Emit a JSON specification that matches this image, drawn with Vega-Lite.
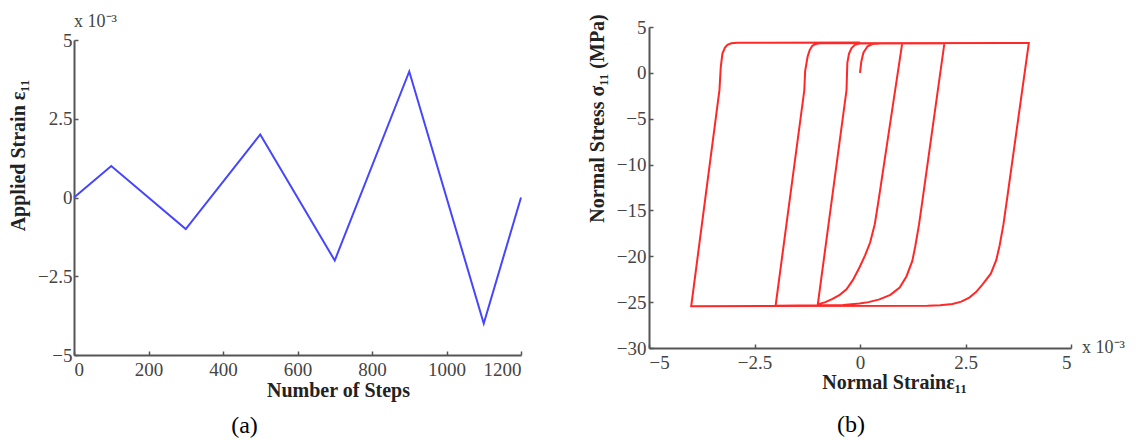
{
  "$schema": "https://vega.github.io/schema/vega-lite/v6.json",
  "background": "white",
  "padding": {"left": 8, "top": 13, "right": 5, "bottom": 0},
  "config": {
    "view": {"stroke": null},
    "font": "Liberation Serif",
    "concat": {"spacing": 62},
    "axis": {
      "grid": false,
      "domainColor": "#555",
      "domainWidth": 2,
      "tickColor": "#555",
      "tickWidth": 1.5,
      "tickSize": -4,
      "labelColor": "#444",
      "labelFont": "Liberation Serif",
      "labelFontSize": 19,
      "titleFont": "Liberation Serif",
      "titleFontSize": 20,
      "titleFontWeight": "bold",
      "titleColor": "#222"
    },
    "title": {"font": "Liberation Serif", "fontSize": 24, "fontWeight": "normal", "color": "#000"}
  },
  "hconcat": [
    {
      "width": 447,
      "height": 328,
      "title": {"text": "(a)", "orient": "bottom", "dx": -53, "offset": 14},
      "data": {"values": [
        {"step": 0, "strain": 0},
        {"step": 100, "strain": 0.001},
        {"step": 300, "strain": -0.001},
        {"step": 500, "strain": 0.002},
        {"step": 700, "strain": -0.002},
        {"step": 900, "strain": 0.004},
        {"step": 1100, "strain": -0.004},
        {"step": 1200, "strain": 0}
      ]},
      "layer": [
        {
          "mark": {"type": "line", "color": "#4646ff", "strokeWidth": 2},
          "encoding": {
            "x": {"field": "step", "type": "quantitative", "scale": {"domain": [0, 1200], "nice": false},
              "axis": {"values": [0, 200, 400, 600, 800, 1000, 1200], "format": "d", "title": "Number of Steps", "labelPadding": 9, "titlePadding": 1, "titleX": 264, "titleAlign": "center"}},
            "y": {"field": "strain", "type": "quantitative", "scale": {"domain": [-0.005, 0.005], "nice": false, "zero": false, "range": [328, 13]},
              "axis": {"values": [-0.005, -0.0025, 0, 0.0025, 0.005], "labelExpr": "format(datum.value*1000, '~g')", "title": "Applied Strain ε₁₁", "labelPadding": 6, "titlePadding": 9, "titleY": 128, "titleAlign": "center"}}
          }
        },
        {
          "data": {"values": [{"step": 0, "strain": 0.005, "label": "x 10⁻³"}]},
          "mark": {"type": "text", "align": "left", "baseline": "bottom", "dy": -9, "dx": 0, "fontSize": 18, "color": "#444"},
          "encoding": {
            "x": {"field": "step", "type": "quantitative"},
            "y": {"field": "strain", "type": "quantitative"},
            "text": {"field": "label"}
          }
        }
      ]
    },
    {
      "width": 422,
      "height": 321,
      "title": {"text": "(b)", "orient": "bottom", "dx": -9, "offset": 21},
      "data": {"values": [
        {"i": 0, "strain": 0.0, "stress": 0.0},
        {"i": 1, "strain": 0.00003, "stress": 1.2},
        {"i": 2, "strain": 0.00008, "stress": 2.2},
        {"i": 3, "strain": 0.00018, "stress": 2.9},
        {"i": 4, "strain": 0.0003, "stress": 3.15},
        {"i": 5, "strain": 0.0005, "stress": 3.2},
        {"i": 6, "strain": 0.001, "stress": 3.22},
        {"i": 7, "strain": 0.00044, "stress": -13.9},
        {"i": 8, "strain": 0.00035, "stress": -16.5},
        {"i": 9, "strain": 0.00024, "stress": -18.5},
        {"i": 10, "strain": 0.00012, "stress": -19.9},
        {"i": 11, "strain": -0.00001, "stress": -21.2},
        {"i": 12, "strain": -0.00017, "stress": -22.6},
        {"i": 13, "strain": -0.00032, "stress": -23.6},
        {"i": 14, "strain": -0.00048, "stress": -24.2},
        {"i": 15, "strain": -0.00065, "stress": -24.65},
        {"i": 16, "strain": -0.00082, "stress": -25.0},
        {"i": 17, "strain": -0.001, "stress": -25.25},
        {"i": 18, "strain": -0.00032, "stress": -1.9},
        {"i": 19, "strain": -0.0003, "stress": 1.1},
        {"i": 20, "strain": -0.00026, "stress": 2.1},
        {"i": 21, "strain": -0.0002, "stress": 2.7},
        {"i": 22, "strain": -0.00012, "stress": 3.05},
        {"i": 23, "strain": -0.00001, "stress": 3.2},
        {"i": 24, "strain": 0.002, "stress": 3.22},
        {"i": 25, "strain": 0.00148, "stress": -13.9},
        {"i": 26, "strain": 0.0014, "stress": -16.5},
        {"i": 27, "strain": 0.00131, "stress": -18.9},
        {"i": 28, "strain": 0.00124, "stress": -20.5},
        {"i": 29, "strain": 0.0011, "stress": -22.2},
        {"i": 30, "strain": 0.00094, "stress": -23.4},
        {"i": 31, "strain": 0.00072, "stress": -24.2},
        {"i": 32, "strain": 0.00046, "stress": -24.7},
        {"i": 33, "strain": 0.0002, "stress": -25.0},
        {"i": 34, "strain": -0.00001, "stress": -25.15},
        {"i": 35, "strain": -0.0004, "stress": -25.3},
        {"i": 36, "strain": -0.002, "stress": -25.4},
        {"i": 37, "strain": -0.00132, "stress": -1.9},
        {"i": 38, "strain": -0.0013, "stress": 0.2},
        {"i": 39, "strain": -0.00124, "stress": 1.8},
        {"i": 40, "strain": -0.00119, "stress": 2.5},
        {"i": 41, "strain": -0.00113, "stress": 2.95},
        {"i": 42, "strain": -0.00105, "stress": 3.15},
        {"i": 43, "strain": -0.00095, "stress": 3.22},
        {"i": 44, "strain": 0.004, "stress": 3.25},
        {"i": 45, "strain": 0.00348, "stress": -13.9},
        {"i": 46, "strain": 0.0034, "stress": -16.5},
        {"i": 47, "strain": 0.00331, "stress": -18.8},
        {"i": 48, "strain": 0.00323, "stress": -20.4},
        {"i": 49, "strain": 0.0031, "stress": -21.9},
        {"i": 50, "strain": 0.0029, "stress": -23.1},
        {"i": 51, "strain": 0.00275, "stress": -23.9},
        {"i": 52, "strain": 0.00259, "stress": -24.5},
        {"i": 53, "strain": 0.0024, "stress": -24.95},
        {"i": 54, "strain": 0.00219, "stress": -25.2},
        {"i": 55, "strain": 0.0019, "stress": -25.33},
        {"i": 56, "strain": 0.0016, "stress": -25.38},
        {"i": 57, "strain": -0.004, "stress": -25.45},
        {"i": 58, "strain": -0.00333, "stress": -1.86},
        {"i": 59, "strain": -0.0033, "stress": 0.6},
        {"i": 60, "strain": -0.00326, "stress": 2.1},
        {"i": 61, "strain": -0.0032, "stress": 2.75},
        {"i": 62, "strain": -0.00314, "stress": 3.06},
        {"i": 63, "strain": -0.00305, "stress": 3.22},
        {"i": 64, "strain": -0.0029, "stress": 3.28},
        {"i": 65, "strain": 0.0, "stress": 3.3}
      ]},
      "layer": [
        {
          "mark": {"type": "line", "color": "#ff2828", "strokeWidth": 2},
          "encoding": {
            "x": {"field": "strain", "type": "quantitative", "scale": {"domain": [-0.005, 0.005], "nice": false, "zero": false},
              "axis": {"values": [-0.005, -0.0025, 0, 0.0025, 0.005], "labelExpr": "format(datum.value*1000, '~g')", "title": "Normal Strainε₁₁", "labelPadding": 9, "titlePadding": 0, "titleX": 245, "titleAlign": "center"}},
            "y": {"field": "stress", "type": "quantitative", "scale": {"domain": [-30, 5], "nice": false, "zero": false},
              "axis": {"values": [-30, -25, -20, -15, -10, -5, 0, 5], "title": "Normal Stress σ₁₁ (MPa)", "labelPadding": 7, "titlePadding": 9, "titleY": 91, "titleAlign": "center"}},
            "order": {"field": "i", "type": "quantitative"}
          }
        },
        {
          "data": {"values": [{"strain": 0.005, "stress": -30, "label": "x 10⁻³"}]},
          "mark": {"type": "text", "align": "left", "baseline": "middle", "dx": 11, "dy": 0, "fontSize": 18, "color": "#444"},
          "encoding": {
            "x": {"field": "strain", "type": "quantitative"},
            "y": {"field": "stress", "type": "quantitative"},
            "text": {"field": "label"}
          }
        }
      ]
    }
  ]
}
